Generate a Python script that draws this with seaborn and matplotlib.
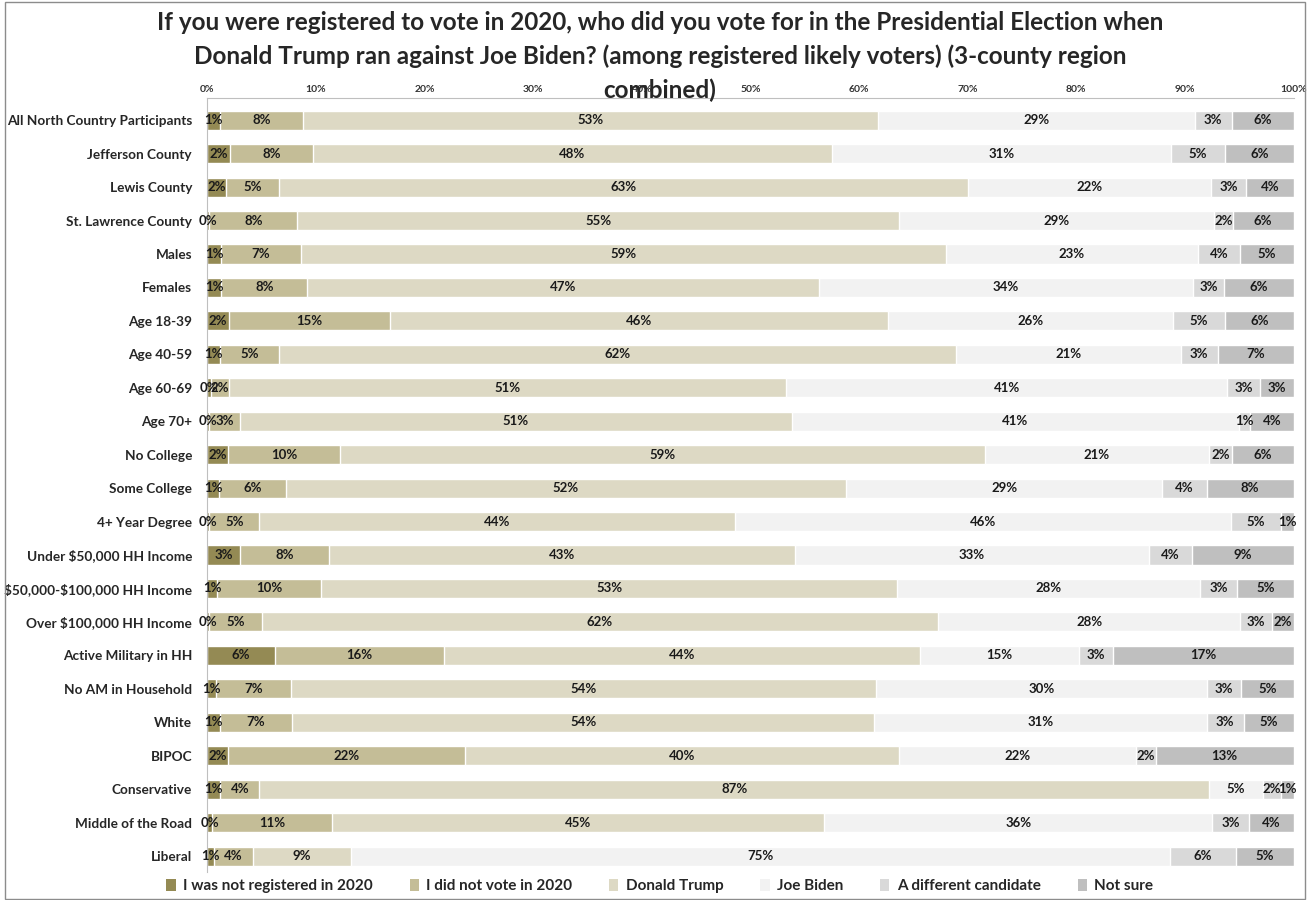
import numpy as np
import pandas as pd
import matplotlib.pyplot as plt
import seaborn as sns
from matplotlib.patches import Rectangle, Patch

# --- Data (percent of respondents) ---
groups = [
    "All North Country Participants", "Jefferson County", "Lewis County",
    "St. Lawrence County", "Males", "Females", "Age 18-39", "Age 40-59",
    "Age 60-69", "Age 70+", "No College", "Some College", "4+ Year Degree",
    "Under $50,000 HH Income", "$50,000-$100,000 HH Income",
    "Over $100,000 HH Income", "Active Military in HH", "No AM in Household",
    "White", "BIPOC", "Conservative", "Middle of the Road", "Liberal",
]
not_registered = [1.2, 2.1, 1.7, 0.2, 1.3, 1.3, 2.0, 1.2, 0.35, 0.2, 1.9, 1.1,
                  0.2, 3.0, 0.9, 0.2, 6.2, 0.8, 1.2, 1.9, 1.2, 0.4, 0.6]
did_not_vote = [7.6, 7.6, 4.9, 8.1, 7.3, 7.9, 14.8, 5.4, 1.65, 2.8, 10.3, 6.1,
                4.6, 8.2, 9.6, 4.8, 15.6, 6.9, 6.6, 21.8, 3.6, 11.1, 3.6]
trump = [52.9, 47.8, 63.4, 55.4, 59.4, 47.1, 45.9, 62.3, 51.3, 50.8, 59.4, 51.6,
         43.8, 42.9, 53.0, 62.3, 43.8, 53.9, 53.6, 40.0, 87.4, 45.3, 9.0]
biden = [29.2, 31.2, 22.4, 29.0, 23.2, 34.4, 26.2, 20.7, 40.6, 41.2, 20.6, 29.1,
         45.6, 32.6, 27.9, 27.8, 14.6, 30.4, 30.6, 21.8, 5.0, 35.7, 75.4]
different = [3.4, 5.0, 3.2, 1.7, 3.9, 2.9, 4.8, 3.4, 3.0, 1.0, 2.1, 4.1,
             4.6, 3.9, 3.4, 2.9, 3.2, 3.2, 3.4, 1.8, 1.6, 3.4, 6.1]
not_sure = [5.7, 6.3, 4.4, 5.6, 4.9, 6.4, 6.3, 7.0, 3.1, 4.0, 5.7, 8.0,
            1.2, 9.4, 5.2, 2.0, 16.6, 4.8, 4.6, 12.7, 1.2, 4.1, 5.3]

series_names = ["I was not registered in 2020", "I did not vote in 2020",
                "Donald Trump", "Joe Biden", "A different candidate", "Not sure"]
colors = ["#948a54", "#c4bd97", "#ddd9c4", "#f2f2f2", "#d9d9d9", "#bfbfbf"]

title_lines = [
    "If you were registered to vote in 2020, who did you vote for in the Presidential Election when",
    "Donald Trump ran against Joe Biden? (among registered likely voters) (3-county region",
    "combined)",
]

df = pd.DataFrame({"group": groups})
for name, vals in zip(series_names, [not_registered, did_not_vote, trump,
                                      biden, different, not_sure]):
    df[name] = vals
cum = df[series_names].cumsum(axis=1)

# --- Plot ---
sns.set_style("white")
plt.rcParams["font.family"] = ["Lato", "DejaVu Sans"]
plt.rcParams["font.weight"] = "bold"
plt.rcParams["text.parse_math"] = False  # keep the $ signs literal

fig = plt.figure(figsize=(13.12, 9), dpi=100)
ax = fig.add_axes([0.158, 0.031, 0.828, 0.860])

# stacked bars: draw cumulative totals from the outermost segment inwards
for name, color in reversed(list(zip(series_names, colors))):
    sns.barplot(x=cum[name], y=df["group"], order=groups, orient="h",
                color=color, saturation=1, width=0.57, errorbar=None, ax=ax)

for name in series_names:
    centers = cum[name] - df[name] / 2
    for i, (c, v) in enumerate(zip(centers, df[name])):
        ax.text(c, i, f"{v:.0f}%", ha="center", va="center",
                fontsize=9.5, fontweight="bold", color="#1a1a1a")

ax.set_xlim(0, 100)
ax.set_ylim(len(groups) - 0.52, -0.66)
ax.xaxis.tick_top()
ax.set_xticks(np.arange(0, 101, 10))
ax.set_xticklabels([f"{t}%" for t in range(0, 101, 10)], fontsize=7.5,
                   fontweight="bold", color="#333333")
ax.tick_params(axis="x", length=0, pad=3)
ax.tick_params(axis="y", length=0, pad=11, labelsize=9.8)
for lbl in ax.get_yticklabels():
    lbl.set_fontweight("bold")
ax.set_xlabel("")
ax.set_ylabel("")
for s in ["right", "bottom"]:
    ax.spines[s].set_visible(False)
ax.spines["top"].set_color("#bfbfbf")
ax.spines["left"].set_color("#bfbfbf")

# title, one line at a time (the last line sits over the tick labels, as in the original)
for k, line in enumerate(title_lines):
    fig.text(0.503, 1 - (22 + 34 * k) / 900, line, ha="center", va="center",
             fontsize=17.5, fontweight="bold")

handles = [Patch(facecolor=c, edgecolor="none") for c in colors]
fig.legend(handles, series_names, loc="center", bbox_to_anchor=(0.503, 1 - 886 / 900),
           ncol=6, frameon=False, fontsize=11, handlelength=0.6, handleheight=0.8,
           handletextpad=0.5, columnspacing=2.4)

fig.patches.append(Rectangle((0.004, 0.001), 0.991, 0.997, transform=fig.transFigure,
                             fill=False, edgecolor="#8c8c8c", lw=1))

fig.savefig("out.png", dpi=100)
